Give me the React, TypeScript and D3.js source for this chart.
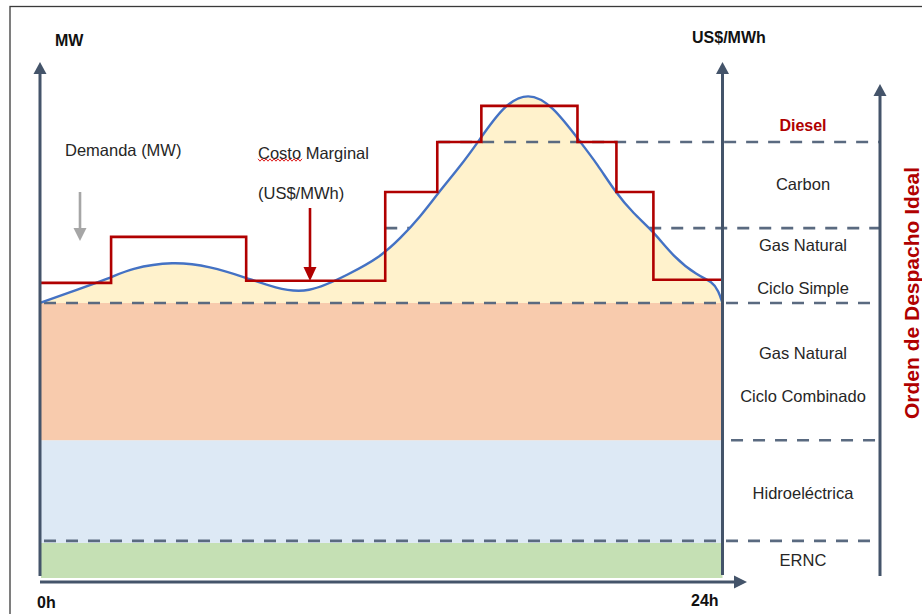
import React from "react";
import * as d3 from "d3";

// ---- Data (hours 0–24, MW / price in chart units 0–100) ----
const demandHours = [0, 1.06, 2.46, 3.17, 4.68, 5.98, 7.25, 8.27, 9.4, 10.91, 11.96, 12.67, 13.37, 14.0, 14.78, 15.38, 16.29, 17.17, 18.02, 19.0, 19.6, 20.23, 20.87, 21.57, 22.28, 23.12, 23.65, 23.86, 24];
const demandMW = [53.3, 55.4, 58.1, 60.0, 61.4, 60.4, 58.2, 56.2, 55.0, 59.0, 62.2, 65.8, 70.0, 74.6, 79.8, 84.3, 91.6, 94.2, 91.6, 84.5, 80.2, 74.8, 70.6, 67.2, 62.2, 58.6, 57.4, 55.6, 53.3];

const priceHours = [0, 2.5, 7.25, 12.14, 13.97, 15.52, 18.9, 20.27, 21.57, 24];
const priceLevels = [57.2, 66.1, 57.6, 74.8, 84.5, 91.5, 84.5, 74.8, 57.8, 57.8];

const bandNames = ["ERNC", "Hidroeléctrica", "Gas Natural Ciclo Combinado"];
const bandBottoms = [0, 6.8, 26.7];
const bandTops = [6.8, 26.7, 53.3];
const bandColors = ["#c5e0b4", "#dde9f5", "#f8cbad"];

const dashLevels = [7.2, 26.7, 53.3, 67.8, 84.5];
const dashStartHours = [0, 24.3, 0, 12.14, 14.0];
const dashOnTop = [true, true, true, false, true];

const dispatchLabels = ["Diesel", "Carbon", "Gas Natural", "Ciclo Simple", "Gas Natural", "Ciclo Combinado", "Hidroeléctrica", "ERNC"];
const dispatchLabelLevels = [87.6, 76.4, 64.5, 56.2, 43.6, 35.3, 16.5, 3.5];

const xTickLabels = ["0h", "24h"];

// ---- Layout ----
const W = 922, H = 614;
const X0 = 40, X1 = 722.5, XR = 880;
const YB = 578, YT = 62;
const AXIS = "#44546a";
const DASH = "#5a6a80";
const RED = "#b00000";
const TXT = "#262626";
const FONT = "Arial, 'Liberation Sans', sans-serif";

export default function App() {
  const x = d3.scaleLinear().domain([0, 24]).range([X0, X1]);
  const y = d3.scaleLinear().domain([0, 100]).range([YB, YT]);
  const yPrice = d3.scaleLinear().domain([0, 100]).range([YB, YT]);

  const demand = demandHours.map((h, i) => [h, demandMW[i]] as [number, number]);
  const price = priceHours.map((h, i) => [h, priceLevels[i]] as [number, number]);

  const curve = d3.curveBasis;
  const area = d3.area<[number, number]>()
    .x(d => x(d[0]))
    .y0(y(bandTops[2]))
    .y1(d => y(d[1]))
    .curve(curve);
  const line = d3.line<[number, number]>()
    .x(d => x(d[0]))
    .y(d => y(d[1]))
    .curve(curve);
  const step = d3.line<[number, number]>()
    .x(d => x(d[0]))
    .y(d => yPrice(d[1]))
    .curve(d3.curveStepAfter);

  const dashEl = (i: number) => (
    <line key={"d" + i} x1={x(dashStartHours[i]) + (dashStartHours[i] === 0 ? 4 : 0)} x2={XR}
      y1={y(dashLevels[i])} y2={y(dashLevels[i])}
      stroke={DASH} strokeWidth={2.6} strokeDasharray="12 10" />
  );

  // wavy spell-check underline under "Costo"
  const wave: string[] = [];
  for (let px = 258, k = 0; px <= 302; px += 2, k++) wave.push(`${px},${k % 2 === 0 ? 158.8 : 161.2}`);

  const arrowUp = (cx: number, tip: number) => `M${cx},${tip} L${cx - 6.5},${tip + 12} L${cx + 6.5},${tip + 12} Z`;

  return (
    <svg width={W} height={H} style={{ position: "absolute", left: 0, top: 0, background: "#fff" }} fontFamily={FONT}>
      <rect x={10} y={6.5} width={W + 20} height={H + 20} fill="#fff" stroke="#3a3a3a" strokeWidth={1.3} />

      {/* bands */}
      {bandNames.map((n, i) => (
        <rect key={n} x={X0 + 1} width={X1 - X0 - 1} y={y(bandTops[i])} height={y(bandBottoms[i]) - y(bandTops[i])} fill={bandColors[i]} />
      ))}

      {dashLevels.map((_, i) => (!dashOnTop[i] ? dashEl(i) : null))}

      {/* demand area */}
      <path d={area(demand) || ""} fill="#fff2cc" />

      {dashLevels.map((_, i) => (dashOnTop[i] ? dashEl(i) : null))}

      {/* demand curve */}
      <path d={line(demand) || ""} fill="none" stroke="#4472c4" strokeWidth={2.4} />

      {/* marginal cost */}
      <path d={step(price) || ""} fill="none" stroke={RED} strokeWidth={2.6} />

      {/* axes */}
      <line x1={X0} x2={X0} y1={576} y2={72} stroke={AXIS} strokeWidth={3} />
      <path d={arrowUp(X0, 62)} fill={AXIS} />
      <line x1={X1} x2={X1} y1={575} y2={72} stroke={AXIS} strokeWidth={3} />
      <path d={arrowUp(X1, 62)} fill={AXIS} />
      <line x1={XR} x2={XR} y1={576} y2={94} stroke={AXIS} strokeWidth={3} />
      <path d={arrowUp(XR, 84)} fill={AXIS} />
      <line x1={X0} x2={736} y1={582} y2={582} stroke={AXIS} strokeWidth={3} />
      <path d={`M747,582 L734,575.5 L734,588.5 Z`} fill={AXIS} />

      {/* axis labels */}
      <text x={55} y={40} dominantBaseline="central" fontWeight="bold" fontSize={16} fill="#111">MW</text>
      <text x={692} y={37} dominantBaseline="central" fontWeight="bold" fontSize={16} fill="#111">US$/MWh</text>
      <text x={37} y={602} dominantBaseline="central" fontWeight="bold" fontSize={16} fill="#111">{xTickLabels[0]}</text>
      <text x={691} y={600} dominantBaseline="central" fontWeight="bold" fontSize={16} fill="#111">{xTickLabels[1]}</text>

      {/* annotations */}
      <text x={65} y={150} dominantBaseline="central" fontSize={16.5} fill={TXT}>Demanda (MW)</text>
      <line x1={80} x2={80} y1={192} y2={229} stroke="#a6a6a6" strokeWidth={2.6} />
      <path d={`M80,241 L73.5,228 L86.5,228 Z`} fill="#a6a6a6" />

      <text x={258} y={153} dominantBaseline="central" fontSize={16.5} fill={TXT}>Costo Marginal</text>
      <polyline points={wave.join(" ")} fill="none" stroke="#e02020" strokeWidth={1} />
      <text x={258} y={193} dominantBaseline="central" fontSize={16.5} fill={TXT}>(US$/MWh)</text>
      <line x1={310} x2={310} y1={208} y2={269} stroke={RED} strokeWidth={2.6} />
      <path d={`M310,281 L303.5,267 L316.5,267 Z`} fill={RED} />

      {/* dispatch labels */}
      {dispatchLabels.map((t, i) => (
        <text key={i} x={803} y={y(dispatchLabelLevels[i])} textAnchor="middle" dominantBaseline="central"
          fontSize={i === 0 ? 16 : 16.5} fontWeight={i === 0 ? "bold" : "normal"} fill={i === 0 ? RED : TXT}>{t}</text>
      ))}

      <text transform="translate(919,293) rotate(-90)" textAnchor="middle" fontWeight="bold" fontSize={21} fill={RED}>Orden de Despacho Ideal</text>
    </svg>
  );
}
